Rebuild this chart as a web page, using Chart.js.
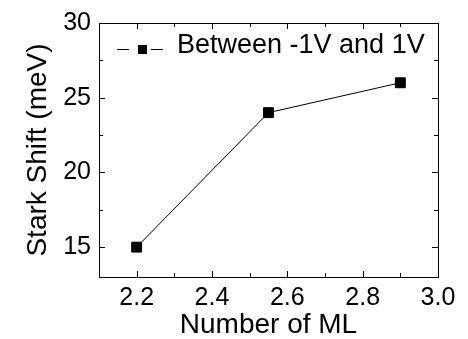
<!DOCTYPE html>
<html>
<head>
<meta charset="utf-8">
<script src="https://cdn.jsdelivr.net/npm/chart.js@4/dist/chart.umd.min.js"></script>
<style>
  html, body { margin: 0; padding: 0; background: #fff; }
  #wrap { width: 468px; height: 339px; }
</style>
</head>
<body>
<div id="wrap"><canvas id="myChart" width="468" height="339"></canvas></div>
<script>
const layers = [2.2, 2.55, 2.9];
const starkShift = [15, 24, 26];
const seriesLabel = 'Between -1V and 1V';
const xMajor = [2.2, 2.4, 2.6, 2.8, 3.0];
const xMinor = [2.1, 2.3, 2.5, 2.7, 2.9];
const yMajor = [15, 20, 25, 30];
const yMinor = [17.5, 22.5, 27.5];

const FONT = "'Liberation Sans', Arial, sans-serif";

// inward tick marks on all four sides, plus the legend entry
const frame = {
    id: 'frame',
    afterDraw(chart) {
        const c = chart.ctx;
        const a = chart.chartArea;
        const x = chart.scales.x, y = chart.scales.y;
        c.save();
        c.strokeStyle = '#000';
        c.lineWidth = 1;
        c.beginPath();
        const vt = (v, len) => {
            const px = Math.round(x.getPixelForValue(v)) + 0.5;
            c.moveTo(px, a.bottom); c.lineTo(px, a.bottom - len);
            c.moveTo(px, a.top); c.lineTo(px, a.top + len);
        };
        const ht = (v, len) => {
            const py = Math.round(y.getPixelForValue(v)) + 0.5;
            c.moveTo(a.left, py); c.lineTo(a.left + len, py);
            c.moveTo(a.right, py); c.lineTo(a.right - len, py);
        };
        xMajor.forEach(v => vt(v, 6));
        xMinor.forEach(v => vt(v, 4));
        yMajor.forEach(v => ht(v, 6));
        yMinor.forEach(v => ht(v, 4));
        c.stroke();

        // legend: line - square - line, then label
        const ly = a.top + 26;
        const lx = a.left + 18;
        c.beginPath();
        c.moveTo(lx, ly + 0.5); c.lineTo(lx + 12, ly + 0.5);
        c.moveTo(lx + 34, ly + 0.5); c.lineTo(lx + 46, ly + 0.5);
        c.stroke();
        c.fillStyle = '#000';
        c.fillRect(lx + 21, ly - 4, 9, 9);
        c.font = '27px ' + FONT;
        c.textBaseline = 'middle';
        c.textAlign = 'left';
        c.fillText(seriesLabel, lx + 60, ly - 3);
        c.restore();
    }
};

const setTicks = (list) => (scale) => { scale.ticks = list.map(v => ({ value: v })); };

var ctx = document.getElementById('myChart').getContext('2d');
var chart = new Chart(ctx, {
    type: 'line',
    data: {
        datasets: [{
            label: seriesLabel,
            data: layers.map((v, i) => ({ x: v, y: starkShift[i] })),
            borderColor: '#000',
            backgroundColor: '#000',
            borderWidth: 1,
            pointStyle: 'rect',
            pointRadius: 7,
            pointBorderWidth: 1,
            fill: false,
            tension: 0
        }]
    },
    options: {
        responsive: false,
        animation: false,
        devicePixelRatio: 1,
        layout: { padding: 0 },
        plugins: { legend: { display: false }, tooltip: { enabled: false } },
        scales: {
            x: {
                type: 'linear', position: 'bottom', min: 2.1, max: 3.0,
                afterBuildTicks: setTicks(xMajor),
                afterFit: (s) => { s.height = 62; },
                grid: { display: false, drawTicks: false },
                border: { display: true, color: '#000', width: 1 },
                ticks: {
                    color: '#000', padding: 6, maxRotation: 0,
                    font: { family: FONT, size: 25 },
                    callback: (v) => Number(v).toFixed(1)
                },
                title: {
                    display: true, text: 'Number of ML', color: '#000',
                    font: { family: FONT, size: 28, lineHeight: 1 },
                    padding: { top: 0, bottom: 0 }
                }
            },
            x2: {
                type: 'linear', position: 'top', min: 2.1, max: 3.0,
                afterFit: (s) => { s.height = 21; },
                grid: { display: false, drawTicks: false },
                border: { display: true, color: '#000', width: 1 },
                ticks: { display: false }
            },
            y: {
                type: 'linear', position: 'left', min: 13, max: 30,
                afterBuildTicks: setTicks(yMajor),
                afterFit: (s) => { s.width = 99; },
                grid: { display: false, drawTicks: false },
                border: { display: true, color: '#000', width: 1 },
                ticks: {
                    color: '#000', padding: 8,
                    font: { family: FONT, size: 25 }
                },
                title: {
                    display: true, text: 'Stark Shift (meV)', color: '#000',
                    font: { family: FONT, size: 28, lineHeight: 1 },
                    padding: { top: 24, bottom: 0 }
                }
            },
            y2: {
                type: 'linear', position: 'right', min: 13, max: 30,
                afterFit: (s) => { s.width = 30; },
                grid: { display: false, drawTicks: false },
                border: { display: true, color: '#000', width: 1 },
                ticks: { display: false }
            }
        }
    },
    plugins: [frame]
});
</script>
</body>
</html>
